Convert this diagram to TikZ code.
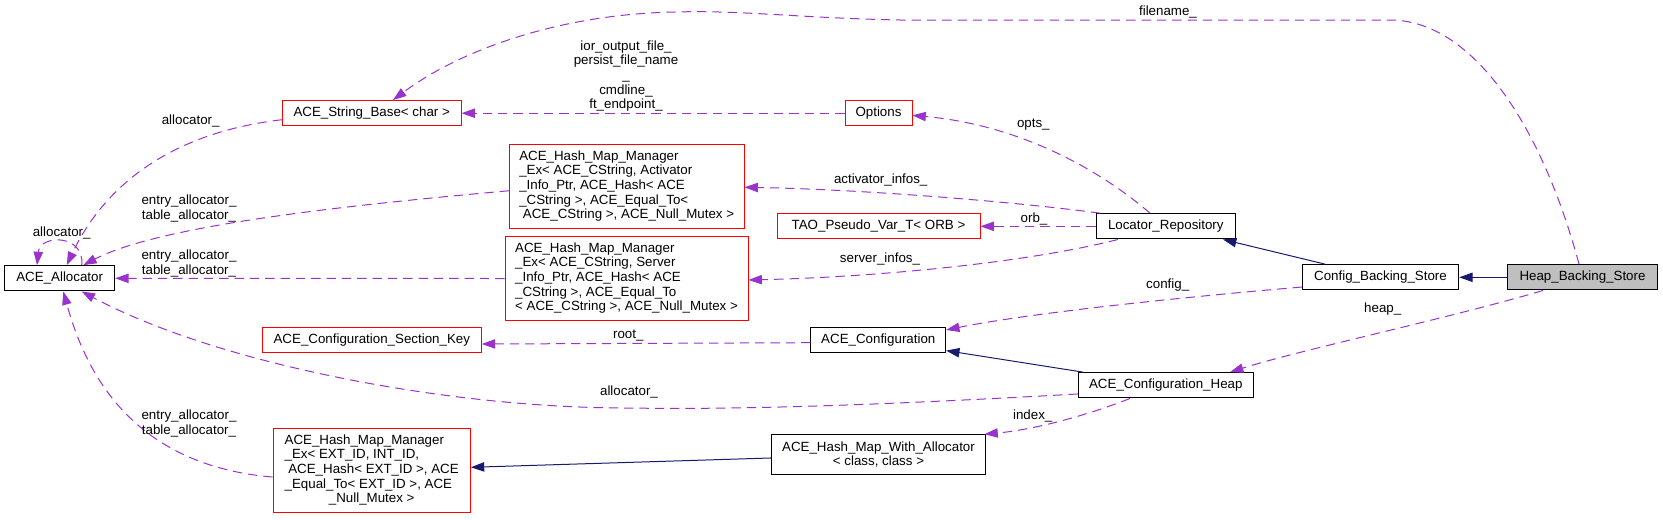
\documentclass[tikz,border=0pt]{standalone}
\usepackage{fontspec}
\setmainfont{Liberation Sans}
\usetikzlibrary{arrows.meta}
\definecolor{usecol}{HTML}{9A32CD}
\definecolor{inhcol}{HTML}{191970}
\begin{document}
\begin{tikzpicture}[x=0.75pt,y=-0.75pt,
  every node/.style={font=\fontsize{10}{11}\selectfont, inner sep=0pt},
  cls/.style={draw=black, fill=white, line width=0.75pt, minimum height=19pt},
  redcls/.style={cls, draw=red},
  hbsbox/.style={cls, fill=black!25},
  lbl/.style={align=center},
  use/.style={draw=usecol, line width=0.75pt, dash pattern=on 7pt off 4.5pt, -{Triangle[length=10pt,width=7pt]}},
  inh/.style={draw=inhcol, line width=0.75pt, -{Triangle[length=10pt,width=7pt]}}]
\useasboundingbox (0,0) rectangle (1663,519);

% nodes
\node[cls, minimum width=82.5pt] (alloc) at (59.7,278.3) {ACE\_Allocator};
\node[redcls, minimum width=134pt] (strbase) at (371.7,113.2) {ACE\_String\_Base< char >};
\node[redcls, minimum width=164.25pt] (seckey) at (371.8,339.8) {ACE\_Configuration\_Section\_Key};
\node[redcls, minimum width=148pt, minimum height=62.7pt] (exthash) at (371.7,470.5)
  {\begin{tabular}{@{}l@{}}ACE\_Hash\_Map\_Manager\\ \_Ex< EXT\_ID, INT\_ID,\\ \ ACE\_Hash< EXT\_ID >, ACE\\ \_Equal\_To< EXT\_ID >, ACE\\ \multicolumn{1}{@{}c@{}}{\_Null\_Mutex >}\end{tabular}};
\node[redcls, minimum width=176pt, minimum height=63.3pt] (acthash) at (626.7,186.5)
  {\begin{tabular}{@{}l@{}}ACE\_Hash\_Map\_Manager\\ \_Ex< ACE\_CString, Activator\\ \_Info\_Ptr, ACE\_Hash< ACE\\ \_CString >, ACE\_Equal\_To<\\ \multicolumn{1}{@{}c@{}}{\ ACE\_CString >, ACE\_Null\_Mutex >}\end{tabular}};
\node[redcls, minimum width=182.25pt, minimum height=63.3pt] (srvhash) at (626.5,278.5)
  {\begin{tabular}{@{}l@{}}ACE\_Hash\_Map\_Manager\\ \_Ex< ACE\_CString, Server\\ \_Info\_Ptr, ACE\_Hash< ACE\\ \_CString >, ACE\_Equal\_To\\ \multicolumn{1}{@{}c@{}}{< ACE\_CString >, ACE\_Null\_Mutex >}\end{tabular}};
\node[redcls, minimum width=50.25pt] (options) at (878.5,113.2) {Options};
\node[redcls, minimum width=152.25pt] (tao) at (878.5,226.3) {TAO\_Pseudo\_Var\_T< ORB >};
\node[cls, minimum width=101pt] (aceconf) at (878.3,339.7) {ACE\_Configuration};
\node[cls, minimum width=160.2pt, minimum height=29.7pt, align=center] (hmwa) at (878.5,454.5) {ACE\_Hash\_Map\_With\_Allocator\\< class, class >};
\node[cls, minimum width=104.25pt] (locrepo) at (1165.8,226.3) {Locator\_Repository};
\node[cls, minimum width=131.25pt] (confheap) at (1165.8,385.3) {ACE\_Configuration\_Heap};
\node[cls, minimum width=117.3pt] (cbs) at (1380.5,277.3) {Config\_Backing\_Store};
\node[hbsbox, minimum width=112.2pt] (hbs) at (1582.5,277.3) {Heap\_Backing\_Store};

% usage edges
\draw[use] ([xshift=-2.6pt]hbs.north) .. controls (1540,120) and (1470,20) .. (1390,20) -- (900,20)
  .. controls (800,18) and (740,10) .. (675,12) .. controls (560,14) and (460,50) .. ([xshift=16pt]strbase.north);
\draw[use] (options.west) -- (strbase.east);
\draw[use] ([yshift=-4.9pt]strbase.west) .. controls (150,135) and (95,205) .. ([xshift=5.3pt]alloc.north);
\draw[use] ([xshift=16.5pt]alloc.north) .. controls (85,234) and (40,234) .. ([xshift=-17pt]alloc.north);
\draw[use] ([yshift=-3.2pt]acthash.west) .. controls (350,205) and (160,225) .. ([xshift=17.7pt]alloc.north);
\draw[use] (srvhash.west) -- (alloc.east);
\draw[use] ([yshift=-6.5pt]confheap.west) .. controls (900,404) and (750,410) .. (628,408)
  .. controls (450,408) and (220,365) .. ([xshift=16.5pt]alloc.south);
\draw[use] ([yshift=-4.9pt]exthash.west) .. controls (130,465) and (85,370) .. ([xshift=2.7pt]alloc.south);
\draw[use] ([yshift=-2.25pt]aceconf.west) -- ([yshift=-3.15pt]seckey.east);
\draw[use] ([yshift=-7.3pt]cbs.west) .. controls (1150,300) and (1020,315) .. ([yshift=7.3pt]aceconf.east);
\draw[use] ([xshift=-29.6pt]hbs.south) .. controls (1450,318) and (1300,350) .. ([xshift=48.2pt]confheap.north);
\draw[use] ([xshift=-11.85pt]locrepo.north) .. controls (1100,170) and (1020,125) .. ([yshift=-1.6pt]options.east);
\draw[use] ([xshift=-49.35pt]locrepo.north) .. controls (1000,200) and (850,189) .. ([yshift=-0.6pt]acthash.east);
\draw[use] (locrepo.west) -- (tao.east);
\draw[use] ([xshift=-35.85pt]locrepo.south) .. controls (1030,262) and (880,277) .. ([yshift=-1.1pt]srvhash.east);
\draw[use] ([xshift=-26.85pt]confheap.south) .. controls (1080,418) and (1030,430) .. ([xshift=-1pt]hmwa.north east);

% inheritance edges
\draw[inh] ([xshift=-62.1pt]confheap.north) -- ([yshift=1.7pt]aceconf.south east);
\draw[inh] ([xshift=-41.6pt]cbs.north) -- ([xshift=42.9pt]locrepo.south);
\draw[inh] (hbs.west) -- (cbs.east);
\draw[inh] ([yshift=-2.6pt]hmwa.west) -- ([yshift=2.4pt]exthash.east);

% labels
\node[lbl] (lfile) at (1168,12) {filename\_};
\node[lbl] (lopt) at (626,76) {ior\_output\_file\_\\persist\_file\_name\\\_\\cmdline\_\\ft\_endpoint\_};
\node[lbl] (lsa) at (190.7,120.7) {allocator\_};
\node[lbl] (lself) at (61.7,232.7) {allocator\_};
\node[lbl] (lea1) at (189,208.2) {entry\_allocator\_\\table\_allocator\_};
\node[lbl] (lea2) at (189,263.2) {entry\_allocator\_\\table\_allocator\_};
\node[lbl] (lea3) at (189,423.2) {entry\_allocator\_\\table\_allocator\_};
\node[lbl] (lha) at (629,391.7) {allocator\_};
\node[lbl] (lroot) at (628.3,336) {root\_};
\node[lbl] (lact) at (880.7,179.7) {activator\_infos\_};
\node[lbl] (lorb) at (1034,219) {orb\_};
\node[lbl] (lsrv) at (880,259) {server\_infos\_};
\node[lbl] (lopts) at (1033.3,125) {opts\_};
\node[lbl] (lconf) at (1167.7,285) {config\_};
\node[lbl] (lidx) at (1032.7,416) {index\_};
\node[lbl] (lheap) at (1382.7,309) {heap\_};
\end{tikzpicture}
\end{document}
